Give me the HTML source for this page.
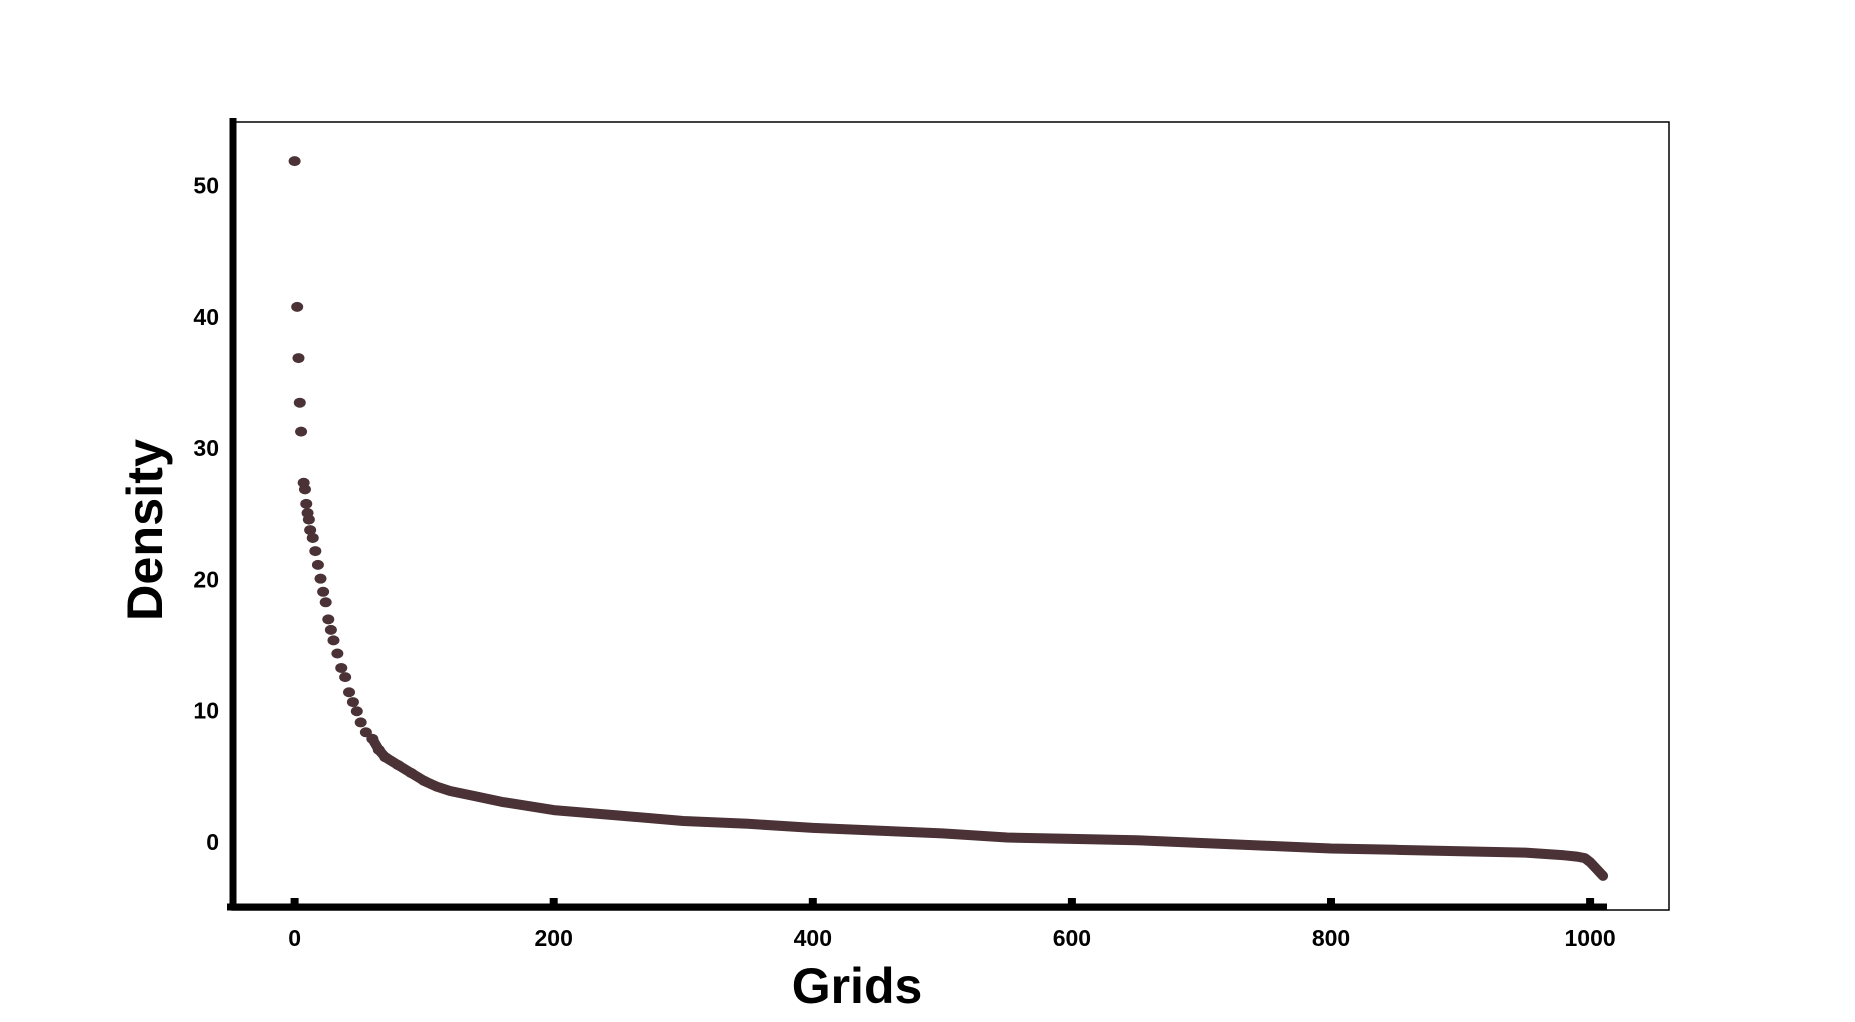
<!DOCTYPE html>
<html><head><meta charset="utf-8"><style>
html,body{margin:0;padding:0;background:#fff;}
svg{display:block;}
text{font-family:"Liberation Sans",sans-serif;}
</style></head><body>
<svg id="chart" width="1855" height="1022" viewBox="0 0 1855 1022" xmlns="http://www.w3.org/2000/svg">
<rect width="1855" height="1022" fill="#fff"/>
<rect x="232" y="122" width="1437" height="788" fill="none" stroke="#000" stroke-width="1.5"/>
<g id="marks"></g>
<line x1="233" y1="118" x2="233" y2="910" stroke="#000" stroke-width="7"/>
<line x1="227" y1="907" x2="1607" y2="907" stroke="#000" stroke-width="7"/>
<g id="yticks"></g>
<g id="xticks"></g>
<text transform="translate(162,530) rotate(-90)" text-anchor="middle" font-size="50" font-weight="bold" textLength="182" lengthAdjust="spacingAndGlyphs">Density</text>
<text x="857" y="1003" text-anchor="middle" font-size="50" font-weight="bold">Grids</text>
</svg>
<script>
const xTicks=[0,200,400,600,800,1000];
const yTicks=[0,10,20,30,40,50];
const gridX=[0,2,3,4,5,7,8,9,10,11,12,14,16,18,20,22,24,26,28,30,33,36,39,42,45,48,51,55,60,65,70,80,90,100,110,120,140,160,180,200,250,300,350,400,450,500,550,600,650,700,750,800,850,900,950,980,990,996,1000,1005,1010];
const density=[49.8,38.7,34.8,31.4,29.2,25.3,24.8,23.7,23.0,22.5,21.7,21.1,20.1,19.05,18.0,17.0,16.2,14.9,14.1,13.3,12.3,11.2,10.5,9.35,8.6,7.9,7.05,6.3,5.8,4.96,4.4,3.8,3.2,2.6,2.15,1.83,1.42,1.0,0.69,0.37,-0.04,-0.46,-0.67,-0.98,-1.19,-1.4,-1.71,-1.82,-1.92,-2.13,-2.34,-2.55,-2.65,-2.76,-2.86,-3.07,-3.17,-3.28,-3.59,-4.11,-4.64];

const NS="http://www.w3.org/2000/svg";
function sx(v){return 294.6+v*1.2955;}
function sy(v){return 815-v*13.13;}
function mk(tag,parent){const e=document.createElementNS(NS,tag);parent.appendChild(e);return e;}

const marks=document.getElementById('marks');
let pts=[];
for(let i=0;i<gridX.length;i++){ if(gridX[i]>=60) pts.push(sx(gridX[i]).toFixed(1)+','+sy(density[i]).toFixed(1)); }
const pl=mk('polyline',marks);


pl.setAttribute('points',pts.join(' '));
pl.setAttribute('fill','none');pl.setAttribute('stroke','#4a3236');pl.setAttribute('stroke-width','10');
pl.setAttribute('stroke-linecap','round');pl.setAttribute('stroke-linejoin','round');
for(let i=0;i<gridX.length;i++){
  if(gridX[i]>100) continue;
  const c=mk('ellipse',marks);
  
  
  c.setAttribute('cx',sx(gridX[i]));c.setAttribute('cy',sy(density[i]));
  c.setAttribute('rx',6);c.setAttribute('ry',5);c.setAttribute('fill','#4a3236');
}
const yt=document.getElementById('yticks');
yTicks.forEach(v=>{
  const t=mk('text',yt);
  
  
  t.setAttribute('x',219);t.setAttribute('y',sy(v)+35);
  t.setAttribute('text-anchor','end');t.setAttribute('font-size','23');t.setAttribute('font-weight','bold');
  t.textContent=v;
});
const xt=document.getElementById('xticks');
xTicks.forEach(v=>{
  const r=mk('rect',xt);
  
  
  r.setAttribute('x',sx(v)-4);r.setAttribute('y',898);r.setAttribute('width',8);r.setAttribute('height',6);r.setAttribute('fill','#000');
  const t=mk('text',xt);
  
  
  t.setAttribute('x',sx(v));t.setAttribute('y',946);
  t.setAttribute('text-anchor','middle');t.setAttribute('font-size','23');t.setAttribute('font-weight','bold');
  t.textContent=v;
});
</script>
</body></html>
